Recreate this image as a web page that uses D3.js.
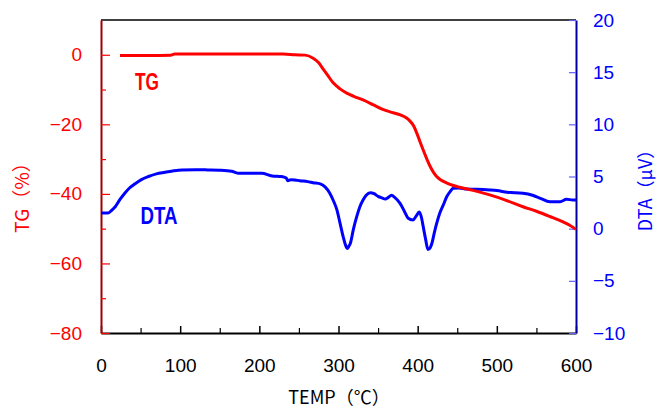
<!DOCTYPE html>
<html><head><meta charset="utf-8">
<script src="https://cdn.jsdelivr.net/npm/d3@7"></script>
<style>
html,body{margin:0;padding:0;background:#fff;}
svg{display:block;font-family:"Liberation Sans",Arial,sans-serif;}
</style></head>
<body>
<svg id="c" width="657" height="409"></svg>
<script>
// TG curve (temperature °C, mass %)
const tgTemp = [24,60,88,93,150,230,245,258,268,275,280,286,293,302,311,320,331,344,355,365,378,386,390,395,399,403,407,412,416,420,424,430,437,445,453,470,491,510,533,550,567,583,592,600];
const tgVals = [-0.2,-0.2,-0.1,0.2,0.2,0.2,0,-0.1,-1.0,-2.3,-3.9,-5.8,-8.0,-9.8,-11.1,-12.0,-13.0,-14.4,-15.6,-16.4,-17.3,-18.2,-19.0,-20.5,-22.6,-25.0,-27.4,-30.2,-32.2,-33.8,-35.0,-36.1,-36.9,-37.6,-38.1,-39.0,-40.3,-41.7,-43.7,-45.0,-46.5,-48.0,-49.0,-50.2];
// DTA curve (temperature °C, µV)
const dtaTemp = [0,9,14,18,24,30,36,43,51,60,70,81,92,102,120,135,150,165,173,190,203,216,228,234,236,240,245,251,261,268,277,283,289,294,298,302,306,309,311,313,315,319,323,327,331,335,340,345,350,355,359,363,367,371,378,383,388,394,398,402,405,407,410,413,416,418,421,424,428,432,437,441,445,452,462,475,491,500,513,533,545,555,567,580,588,596,600];
const dtaVals = [1.5,1.5,1.8,2.1,2.8,3.4,3.9,4.3,4.7,5.0,5.25,5.4,5.55,5.63,5.65,5.63,5.6,5.5,5.31,5.31,5.31,5.05,4.99,4.85,4.6,4.7,4.67,4.6,4.51,4.41,4.3,4.0,3.4,2.6,1.8,0.5,-0.8,-1.6,-1.9,-1.7,-1.4,0,1.15,2.1,2.75,3.2,3.45,3.35,3.1,2.95,2.85,3.0,3.2,3.0,2.4,1.7,1.0,0.83,1.2,1.6,1.0,0.2,-1.0,-2.0,-1.8,-1.4,-0.4,0.5,1.5,2.2,3.1,3.55,3.87,3.9,3.8,3.78,3.71,3.65,3.49,3.39,3.2,2.91,2.59,2.59,2.82,2.75,2.75];

const xTicks = [0,100,200,300,400,500,600];
const xMinor = [50,150,250,350,450,550];
const tgTicks = [0,-20,-40,-60,-80];
const tgMinor = [-10,-30,-50,-70];
const dtaTicks = [20,15,10,5,0,-5,-10];

const L=101, R=576, T=20, B=333;
const svg = d3.select("#c");
const x = d3.scaleLinear().domain([0,600]).range([L,R]);
const yL = d3.scaleLinear().domain([-80,10]).range([B,T]);
const yR = d3.scaleLinear().domain([-10,20]).range([B,T]);
const fmt = d => (d<0?"\u2212":"")+Math.abs(d);

// top border
svg.append("line").attr("x1",L).attr("x2",R).attr("y1",T).attr("y2",T).attr("stroke","#000").attr("stroke-width",1.5);

// bottom axis
const gx = svg.append("g").attr("transform",`translate(0,${B})`)
  .call(d3.axisBottom(x).tickValues(xTicks).tickFormat(fmt).tickSizeInner(-7).tickSizeOuter(0).tickPadding(26));
gx.selectAll("text").attr("font-size",19).attr("fill","#000");
gx.selectAll("line").attr("stroke","#000").attr("stroke-width",1.5);
gx.select(".domain").attr("stroke","#000").attr("stroke-width",2);
svg.append("g").attr("transform",`translate(0,${B})`)
  .call(d3.axisBottom(x).tickValues(xMinor).tickFormat("").tickSizeInner(-5).tickSizeOuter(0))
  .call(g=>{g.select(".domain").remove(); g.selectAll("line").attr("stroke","#000").attr("stroke-width",1.2);});

// left axis (TG)
const gl = svg.append("g").attr("transform",`translate(${L},0)`)
  .call(d3.axisLeft(yL).tickValues(tgTicks).tickFormat(fmt).tickSizeInner(-9).tickSizeOuter(0).tickPadding(19));
gl.selectAll("text").attr("font-size",19).attr("fill","#ff0000");
gl.selectAll("line").attr("stroke","#ff0000").attr("stroke-width",1.2);
gl.select(".domain").attr("stroke","#a00000").attr("stroke-width",2);
svg.append("g").attr("transform",`translate(${L},0)`)
  .call(d3.axisLeft(yL).tickValues(tgMinor).tickFormat("").tickSizeInner(-5).tickSizeOuter(0))
  .call(g=>{g.select(".domain").remove(); g.selectAll("line").attr("stroke","#ff0000").attr("stroke-width",1.2);});

// right axis (DTA)
const gr = svg.append("g").attr("transform",`translate(${R},0)`)
  .call(d3.axisRight(yR).tickValues(dtaTicks).tickFormat(fmt).tickSizeInner(-7).tickSizeOuter(0).tickPadding(17));
gr.selectAll("text").attr("font-size",19).attr("fill","#0000ff");
gr.selectAll("line").attr("stroke","#6060ff").attr("stroke-width",1.2);
gr.select(".domain").attr("stroke","#0000a0").attr("stroke-width",2);

// curves
const tgData = tgTemp.map((t,i)=>[t,tgVals[i]]);
const dtaData = dtaTemp.map((t,i)=>[t,dtaVals[i]]);
svg.append("path").datum(dtaData)
  .attr("d", d3.line().x(d=>x(d[0])).y(d=>yR(d[1])).curve(d3.curveMonotoneX))
  .attr("fill","none").attr("stroke","#0000ff").attr("stroke-width",3);
svg.append("path").datum(tgData)
  .attr("d", d3.line().x(d=>x(d[0])).y(d=>yL(d[1])).curve(d3.curveMonotoneX))
  .attr("fill","none").attr("stroke","#ff0000").attr("stroke-width",3);

// series labels
svg.append("text").attr("x",135).attr("y",90).attr("font-size",23).attr("font-weight","bold")
  .attr("textLength",24).attr("lengthAdjust","spacingAndGlyphs").attr("fill","#ff0000").text("TG");
svg.append("text").attr("x",140.5).attr("y",224).attr("font-size",23).attr("font-weight","bold")
  .attr("textLength",37).attr("lengthAdjust","spacingAndGlyphs").attr("fill","#0000ff").text("DTA");

// axis titles
svg.append("text").attr("transform","translate(29,193) rotate(-90)").attr("text-anchor","middle")
  .attr("font-size",19).attr("fill","#ff0000").attr("font-family","'Noto Sans CJK JP',sans-serif").text("TG（%）");
svg.append("text").attr("transform","translate(652,186) rotate(-90)").attr("text-anchor","middle")
  .attr("font-size",18).attr("fill","#0000ff").attr("font-family","'Noto Sans CJK JP',sans-serif").text("DTA（μV）");
svg.append("text").attr("x",339).attr("y",404).attr("text-anchor","middle")
  .attr("font-size",18).attr("fill","#000").attr("font-family","'Noto Sans CJK JP',sans-serif").text("TEMP（℃）");
</script>
</body></html>
